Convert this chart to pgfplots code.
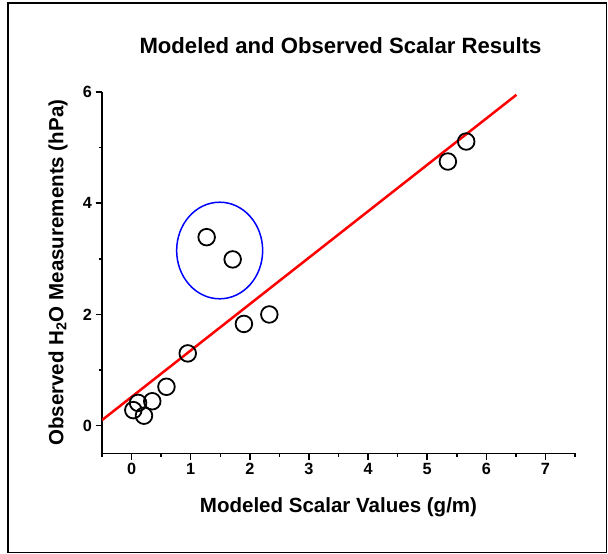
\documentclass[border=0pt]{standalone}
\usepackage{pgfplots}
\pgfplotsset{compat=1.18}
\usepackage{fontspec}
\setmainfont{Liberation Sans}
\begin{document}
\begin{tikzpicture}
\path[use as bounding box] (0,0) rectangle (608bp,554bp);
\draw[line width=1.5bp] (8bp,1.3bp) rectangle (606.5bp,551bp);
\begin{axis}[
  at={(102bp,100.5bp)}, anchor=south west,
  scale only axis, width=473bp, height=361.5bp,
  xmin=-0.5, xmax=7.5, ymin=-0.5, ymax=6,
  axis x line=bottom, axis y line=left,
  axis line style={-, line width=1.5bp, black},
  xtick={0,1,...,7}, minor xtick={-0.5,0.5,...,7.5},
  ytick={0,2,4,6}, minor ytick={1,3,5},
  tick align=outside,
  major tick length=6.5bp, minor tick length=3.5bp,
  tick style={line width=1.5bp, black},
  /pgf/number format/assume math mode=true,
  tick label style={font=\fontsize{16.3}{18}\selectfont\bfseries},
  title={Modeled and Observed Scalar Results},
  title style={font=\fontsize{22.2}{26}\selectfont\bfseries, at={(axis description cs:0.5,1)}, anchor=base, yshift=32.7bp, xshift=2bp},
  xlabel={Modeled Scalar Values (g/m)},
  xlabel style={font=\fontsize{20.6}{24}\selectfont\bfseries, at={(axis description cs:0.5,0)}, anchor=base, yshift=-58.5bp},
  ylabel={Observed H\textsubscript{2}O Measurements (hPa)},
  ylabel style={font=\fontsize{20.6}{24}\selectfont\bfseries, at={(axis description cs:0,0.5)}, anchor=base, yshift=38.7bp},
]
\addplot[red, line width=2.5bp] coordinates {(-0.5,0.10) (6.51,5.95)};
\addplot[only marks, mark=o, mark size=8.3bp, mark options={line width=1.8bp, black}] coordinates {
(1.27,3.39) (1.71,2.99) (1.90,1.83) (2.33,2.00) (0.95,1.30) (0.59,0.70)
(0.35,0.44) (0.11,0.41) (0.03,0.28) (0.21,0.18) (5.66,5.11) (5.35,4.75)
};
\draw[blue, line width=1.5bp] (axis cs:1.49,3.15) ellipse [x radius=43bp, y radius=48.3bp];
\end{axis}
\end{tikzpicture}
\end{document}
